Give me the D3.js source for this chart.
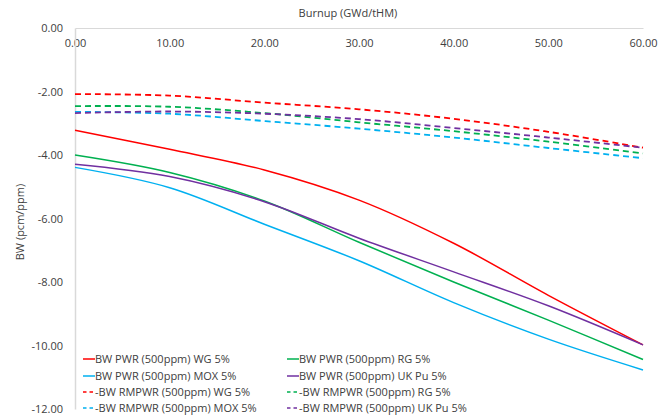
<!DOCTYPE html>
<html>
<head>
  <meta charset="utf-8">
  <script src="https://d3js.org/d3.v7.min.js"></script>
  <style>
    body { margin: 0; background: #fff; font-family: "Open Sans", Arial, sans-serif; }
    .axis text { font-size: 11px; fill: #404040; font-family: "Open Sans", Arial, sans-serif; }
    .axis path { stroke: #d9d9d9; }
    .lbl { font-size: 11px; fill: #404040; }
  </style>
</head>
<body>
<div id="chart"></div>
<script>
const width = 672, height = 418;
const margin = { top: 28, right: 29, bottom: 9, left: 75 };

// burnup points (GWd/tHM)
const burnup = [0, 10, 20, 30, 40, 50, 60];

// BW values (pcm/ppm)
const pwrWG   = [-3.22, -3.82, -4.47, -5.42, -6.78, -8.42, -9.98];
const pwrRG   = [-4.00, -4.55, -5.45, -6.75, -8.00, -9.20, -10.44];
const pwrMOX  = [-4.39, -5.03, -6.18, -7.33, -8.65, -9.80, -10.77];
const pwrUK   = [-4.29, -4.68, -5.47, -6.62, -7.68, -8.75, -9.98];
const rmWG    = [-2.08, -2.13, -2.35, -2.56, -2.86, -3.27, -3.77];
const rmRG    = [-2.46, -2.48, -2.68, -2.97, -3.25, -3.58, -3.95];
const rmMOX   = [-2.64, -2.70, -2.93, -3.17, -3.45, -3.78, -4.10];
const rmUK    = [-2.68, -2.63, -2.70, -2.87, -3.15, -3.45, -3.77];

const xTicks = [0, 10, 20, 30, 40, 50, 60];
const yTicks = [0, -2, -4, -6, -8, -10, -12];

const series = [
  { name: "BW PWR (500ppm) WG 5%", values: pwrWG, color: "#ff0000", dash: false },
  { name: "BW PWR (500ppm) RG 5%", values: pwrRG, color: "#00b050", dash: false },
  { name: "BW PWR (500ppm) MOX 5%", values: pwrMOX, color: "#00b0f0", dash: false },
  { name: "BW PWR (500ppm) UK Pu 5%", values: pwrUK, color: "#7030a0", dash: false },
  { name: "BW RMPWR (500ppm) WG 5%", values: rmWG, color: "#ff0000", dash: true },
  { name: "BW RMPWR (500ppm) RG 5%", values: rmRG, color: "#00b050", dash: true },
  { name: "BW RMPWR (500ppm) MOX 5%", values: rmMOX, color: "#00b0f0", dash: true },
  { name: "BW RMPWR (500ppm) UK Pu 5%", values: rmUK, color: "#7030a0", dash: true }
];

const svg = d3.select("#chart").append("svg")
  .attr("width", width)
  .attr("height", height);

const x = d3.scaleLinear().domain([0, 60]).range([margin.left, width - margin.right]);
const y = d3.scaleLinear().domain([-12, 0]).range([height - margin.bottom, margin.top]);

const fmt = d => d3.format(".2f")(d).replace("\u2212", "-");

// axes
svg.append("g")
  .attr("class", "axis")
  .attr("transform", `translate(0,${y(0)})`)
  .call(d3.axisBottom(x).tickValues(xTicks).tickSize(0).tickPadding(11).tickFormat(fmt))
  .call(g => g.select(".domain").attr("stroke", "#d9d9d9"));

svg.append("g")
  .attr("class", "axis")
  .attr("transform", `translate(${x(0)},0)`)
  .call(d3.axisLeft(y).tickValues(yTicks).tickSize(0).tickPadding(12).tickFormat(fmt))
  .call(g => g.select(".domain").attr("stroke", "#d9d9d9").attr("stroke-width", 1.5));

// titles
svg.append("text").attr("class", "lbl")
  .attr("x", 348).attr("y", 17)
  .attr("text-anchor", "middle")
  .text("Burnup (GWd/tHM)");

svg.append("text").attr("class", "lbl")
  .attr("transform", "translate(24,222) rotate(-90)")
  .attr("text-anchor", "middle")
  .text("BW (pcm/ppm)");

// lines
const line = d3.line()
  .x((d, i) => x(burnup[i]))
  .y(d => y(d))
  .curve(d3.curveCatmullRom.alpha(0.5));

svg.append("g").selectAll("path")
  .data(series)
  .join("path")
  .attr("d", d => line(d.values))
  .attr("fill", "none")
  .attr("stroke", d => d.color)
  .attr("stroke-width", d => d.dash ? 1.8 : 1.5)
  .attr("stroke-dasharray", d => d.dash ? "6,4" : null);

// legend
const legend = svg.append("g");
const rowY = [359, 376, 392, 408];
const colX = [83, 287];
series.forEach((s, i) => {
  const col = i % 2, row = Math.floor(i / 2);
  const g = legend.append("g").attr("transform", `translate(${colX[col]},${rowY[row]})`);
  g.append("line")
    .attr("x1", 0).attr("x2", 12)
    .attr("y1", 0).attr("y2", 0)
    .attr("stroke", s.color)
    .attr("stroke-width", 1.5)
    .attr("stroke-dasharray", s.dash ? "3.5,3" : null);
  g.append("text").attr("class", "lbl")
    .attr("x", 12).attr("y", 4)
    .text(s.dash ? "-" + s.name : s.name);
});
</script>
</body>
</html>
